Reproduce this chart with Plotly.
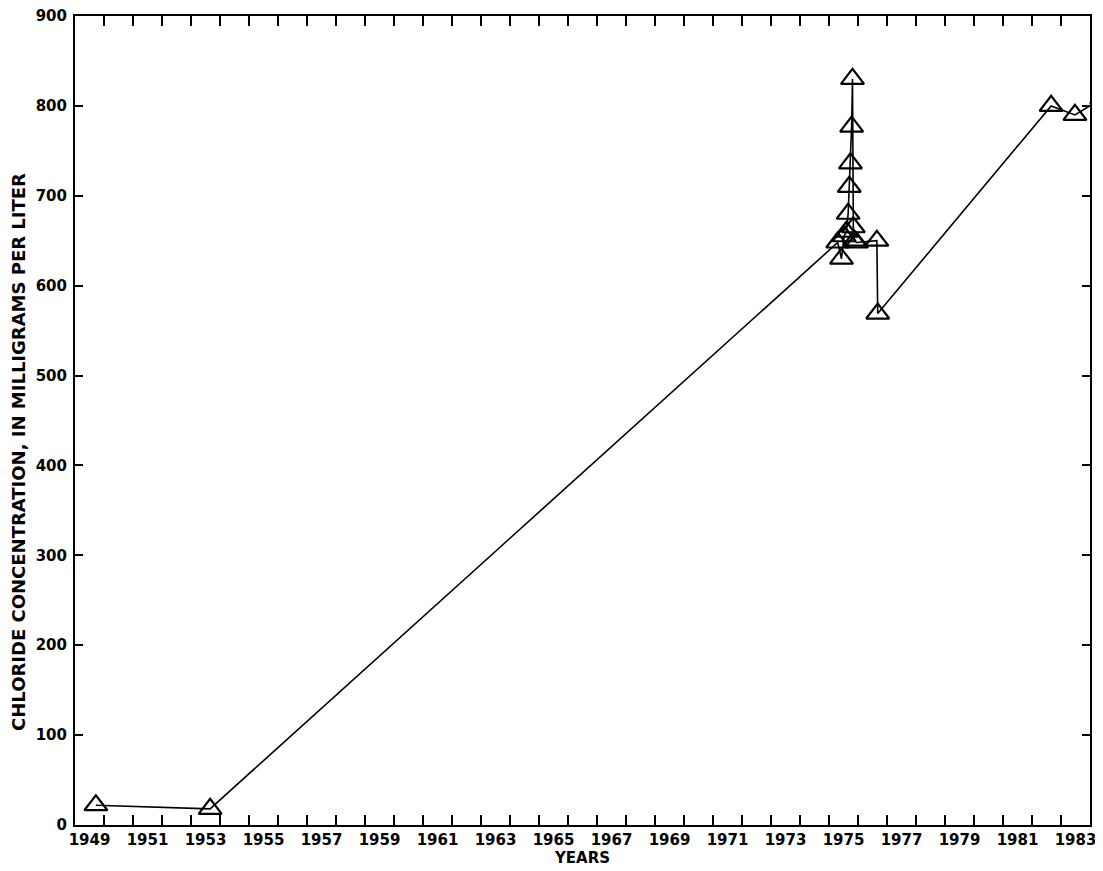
import plotly.graph_objects as go

# Sample dates (decimal years) and chloride concentrations (mg/L)
years = [1949.72, 1953.66,
         1975.30, 1975.43, 1975.52, 1975.60, 1975.66, 1975.70, 1975.74,
         1975.78, 1975.81, 1975.84, 1975.88, 1975.95,
         1976.65, 1976.68,
         1982.66, 1983.48, 1984.40]
chloride = [22, 18,
            648, 630, 655, 660, 680, 710, 736,
            777, 830, 665, 650, 648,
            650, 569,
            800, 790, 808]

tick_years = list(range(1950, 1984))
label_pos = [y + 0.5 for y in range(1949, 1984, 2)]
label_text = [str(y) for y in range(1949, 1984, 2)]
y_ticks = list(range(0, 901, 100))

font_family = "DejaVu Sans, Liberation Sans, sans-serif"

fig = go.Figure()
fig.add_trace(go.Scatter(
    x=years, y=chloride, mode="lines+markers",
    line=dict(color="black", width=1.6),
    marker=dict(symbol="triangle-up-open", size=20, color="black",
                line=dict(color="black", width=2.2)),
    cliponaxis=True, showlegend=False,
))
# invisible trace to carry the labelled axis
fig.add_trace(go.Scatter(x=[1949, 1984], y=[0, 0], xaxis="x2", mode="markers",
                         marker=dict(opacity=0), showlegend=False, hoverinfo="skip"))

fig.update_layout(
    width=1103, height=871,
    margin=dict(l=67, r=21, t=8, b=54, autoexpand=False),
    paper_bgcolor="white", plot_bgcolor="white",
    font=dict(family=font_family, color="black"),
    xaxis=dict(
        range=[1949, 1984], tickmode="array", tickvals=tick_years,
        ticktext=["" for _ in tick_years], automargin=False,
        ticks="inside", ticklen=10, tickwidth=1.5, tickcolor="black",
        showline=True, linecolor="black", linewidth=2, mirror="ticks",
        showgrid=False, zeroline=False,
    ),
    xaxis2=dict(
        range=[1949, 1984], overlaying="x", side="bottom", automargin=False,
        tickmode="array", tickvals=label_pos, ticktext=label_text,
        ticks="", showline=False, showgrid=False, zeroline=False,
        ticklabelstandoff=4, ticklabeloverflow="allow",
        tickfont=dict(size=15, family=font_family, weight="bold"),
        title=dict(text="<b>YEARS</b>", font=dict(size=15, family=font_family),
                   standoff=0),
    ),
    yaxis=dict(
        range=[0, 900], tickmode="array", tickvals=y_ticks, automargin=False,
        ticks="inside", ticklen=8, tickwidth=1.5, tickcolor="black",
        showline=True, linecolor="black", linewidth=2, mirror="ticks",
        showgrid=False, zeroline=False, ticklabelstandoff=3,
        ticklabeloverflow="allow",
        tickfont=dict(size=15, family=font_family, weight="bold"),
    ),
    annotations=[dict(
        text="<b>CHLORIDE CONCENTRATION, IN MILLIGRAMS PER LITER</b>",
        xref="paper", yref="y", x=0, y=415, xanchor="center", yanchor="middle",
        xshift=-56, textangle=-90, showarrow=False,
        font=dict(size=18, family=font_family),
    )],
)

fig.write_html("out.html")
